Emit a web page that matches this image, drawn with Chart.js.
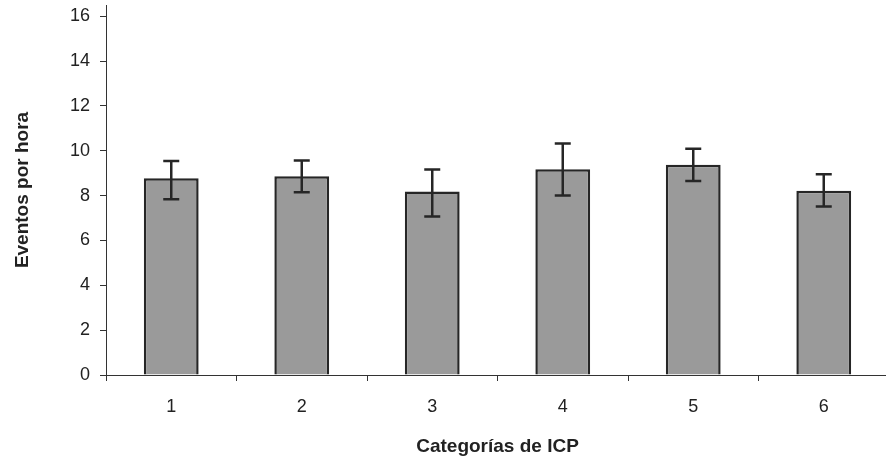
<!DOCTYPE html>
<html>
<head>
<meta charset="utf-8">
<script src="https://cdn.jsdelivr.net/npm/chart.js@4.4.1/dist/chart.umd.min.js"></script>
<style>
  html, body { margin: 0; padding: 0; background: #fff; overflow: hidden; }
  canvas { display: block; }
</style>
</head>
<body>
<canvas id="myChart" width="892" height="466"></canvas>
<script>
// data
var categories = ['1', '2', '3', '4', '5', '6'];
var means = [8.77, 8.86, 8.18, 9.17, 9.38, 8.22];
var errHigh = [9.54, 9.57, 9.16, 10.32, 10.09, 8.95];
var errLow = [7.84, 8.15, 7.07, 8.01, 8.65, 7.51];
var yTicks = [0, 2, 4, 6, 8, 10, 12, 14, 16];

// draws the error bars using the chart's own scales
var errorBars = {
    id: 'errorBars',
    afterDatasetsDraw: function(chart) {
        var ctx = chart.ctx;
        var x = chart.scales.x;
        var y = chart.scales.y;
        ctx.save();
        ctx.strokeStyle = '#262626';
        ctx.lineWidth = 2.5;
        for (var i = 0; i < categories.length; i++) {
            var px = x.getPixelForValue(i);
            var top = y.getPixelForValue(errHigh[i]);
            var bot = y.getPixelForValue(errLow[i]);
            ctx.beginPath();
            ctx.moveTo(px, top);
            ctx.lineTo(px, bot);
            ctx.moveTo(px - 8, top);
            ctx.lineTo(px + 8, top);
            ctx.moveTo(px - 8, bot);
            ctx.lineTo(px + 8, bot);
            ctx.stroke();
        }
        ctx.restore();
    }
};

var ctx = document.getElementById('myChart').getContext('2d');
var myChart = new Chart(ctx, {
    type: 'bar',
    data: {
        labels: categories,
        datasets: [{
            data: means,
            backgroundColor: '#9a9a9a',
            borderColor: '#262626',
            borderWidth: 2.5,
            barPercentage: 0.42,
            categoryPercentage: 1
        }]
    },
    options: {
        responsive: false,
        animation: false,
        layout: { padding: { top: 5, right: 3, left: 0, bottom: 0 } },
        plugins: { legend: { display: false }, tooltip: { enabled: false } },
        scales: {
            x: {
                afterFit: function(scale) {
                    scale.height = 91;
                    scale.paddingLeft = 0;
                    scale.paddingRight = 0;
                },
                grid: { drawOnChartArea: false, tickLength: 6, color: '#333' },
                border: { color: '#333', width: 1 },
                ticks: {
                    color: '#222',
                    padding: 15,
                    font: { family: 'Arial, "Liberation Sans", sans-serif', size: 18 }
                },
                title: {
                    display: true,
                    text: 'Categorías de ICP',
                    color: '#222',
                    padding: { top: 0, bottom: 8 },
                    font: { family: 'Arial, "Liberation Sans", sans-serif', size: 19, weight: 'bold' }
                }
            },
            y: {
                min: 0,
                max: 16.5,
                afterFit: function(scale) {
                    scale.width = 106;
                    scale.paddingTop = 0;
                    scale.paddingBottom = 0;
                },
                afterBuildTicks: function(scale) {
                    scale.ticks = yTicks.map(function(v) { return { value: v }; });
                },
                grid: { drawOnChartArea: false, tickLength: 6, color: '#333' },
                border: { color: '#333', width: 1 },
                ticks: {
                    color: '#222',
                    padding: 10,
                    font: { family: 'Arial, "Liberation Sans", sans-serif', size: 18 }
                },
                title: {
                    display: true,
                    text: 'Eventos por hora',
                    color: '#222',
                    padding: { top: 11, bottom: 0 },
                    font: { family: 'Arial, "Liberation Sans", sans-serif', size: 19, weight: 'bold' }
                }
            }
        }
    },
    plugins: [errorBars]
});
</script>
</body>
</html>
